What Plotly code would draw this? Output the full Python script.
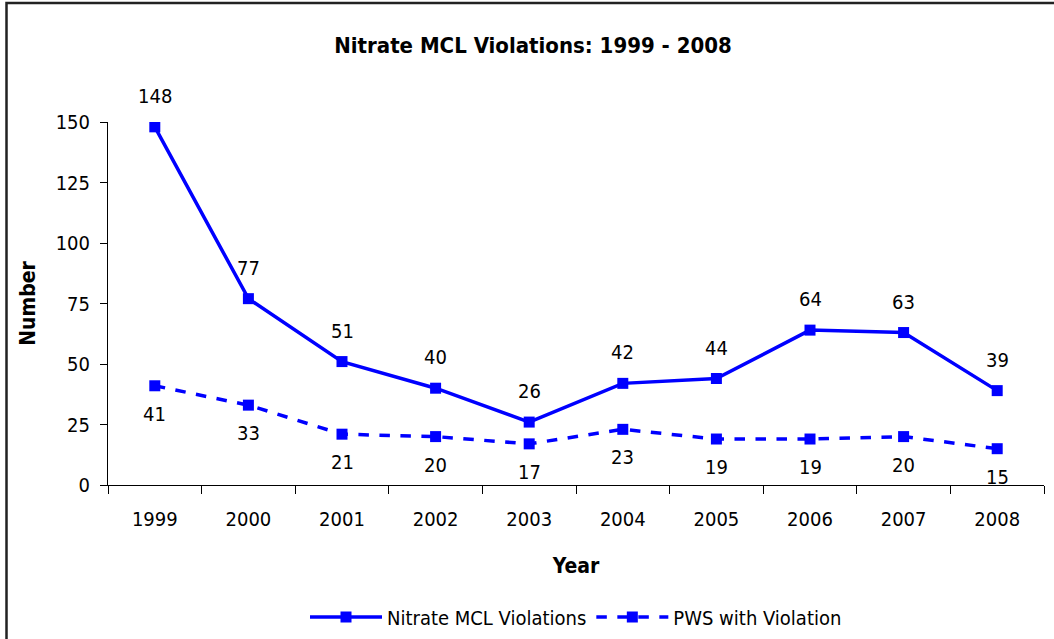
import plotly.graph_objects as go

years = ["1999", "2000", "2001", "2002", "2003", "2004", "2005", "2006", "2007", "2008"]
nitrate = [148, 77, 51, 40, 26, 42, 44, 64, 63, 39]
pws = [41, 33, 21, 20, 17, 23, 19, 19, 20, 15]
y_ticks = [0, 25, 50, 75, 100, 125, 150]

FONT = "Liberation Sans Narrow, Arial Narrow, DejaVu Sans Condensed, sans-serif"
BLUE = "#0000FF"

fig = go.Figure()
fig.add_trace(go.Scatter(
    x=years, y=nitrate, name="Nitrate MCL Violations", mode="lines+markers",
    line=dict(color=BLUE, width=3.5), marker=dict(symbol="square", size=11, color=BLUE),
))
fig.add_trace(go.Scatter(
    x=years, y=pws, name="PWS with Violation", mode="lines+markers",
    line=dict(color=BLUE, width=3.5, dash="dash"), marker=dict(symbol="square", size=11, color=BLUE),
))

annotations = []
for i, v in enumerate(nitrate):
    annotations.append(dict(x=i, y=v, xref="x", yref="y", text=str(v), showarrow=False, yshift=31,
                            font=dict(family=FONT, size=20, color="#000")))
for i, v in enumerate(pws):
    annotations.append(dict(x=i, y=v, xref="x", yref="y", text=str(v), showarrow=False, yshift=-28,
                            font=dict(family=FONT, size=20, color="#000")))

fig.update_layout(
    width=1054, height=639,
    margin=dict(l=108, r=10, t=122, b=154, autoexpand=False),
    paper_bgcolor="white", plot_bgcolor="white",
    font=dict(family=FONT, size=20, color="#000"),
    title=dict(text="<b>Nitrate MCL Violations: 1999 - 2008</b>", x=533 / 1054, xanchor="center",
               xref="container", y=1 - 45 / 639, yanchor="middle", font=dict(family=FONT, size=22)),
    xaxis=dict(type="category", range=[-0.5, 9.5], autorange=False,
               showline=True, linecolor="#000", linewidth=1,
               ticks="outside", ticklen=8, tickcolor="#000", tickson="boundaries",
               showgrid=False, zeroline=False, tickfont=dict(size=20), tickangle=0,
               ticklabelstandoff=16,
               title=dict(text="<b>Year</b>", font=dict(size=21), standoff=28)),
    yaxis=dict(range=[0, 150], autorange=False, tickvals=y_ticks, showline=True, linecolor="#000", linewidth=1,
               ticks="outside", ticklen=7, tickcolor="#000", showgrid=False, zeroline=False,
               tickfont=dict(size=20), ticklabelstandoff=6,
               title=dict(text="<b>Number</b>", font=dict(size=21), standoff=14)),
    legend=dict(orientation="h", x=0.5, xanchor="center", y=-(617 - 485) / 363, yanchor="middle",
                font=dict(size=20), itemwidth=72),
    annotations=annotations,
    showlegend=True,
)

fig.add_shape(type="rect", xref="paper", yref="paper",
              x0=(6.5 - 108) / 936, x1=1.2, y0=-1, y1=1 + (122 - 3) / 363,
              line=dict(color="#222", width=2.5), fillcolor="rgba(0,0,0,0)", layer="below")

fig.write_html("out.html", config={"displayModeBar": False},
               post_script="document.body.style.margin='0';")
